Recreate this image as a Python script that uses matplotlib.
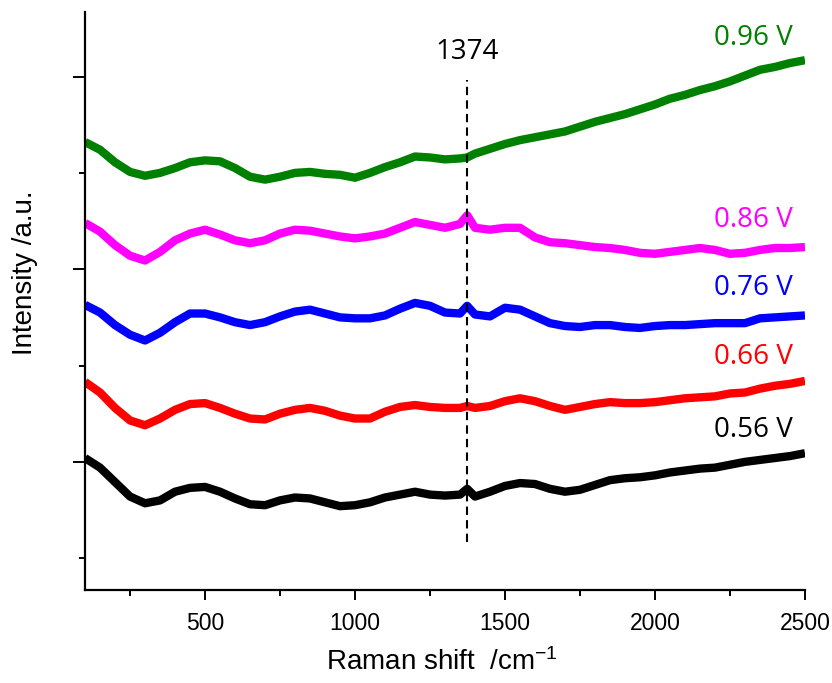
import matplotlib
matplotlib.use("Agg")
import matplotlib.pyplot as plt
from matplotlib.ticker import MultipleLocator

plt.rcParams["font.family"] = ["Liberation Sans", "DejaVu Sans"]
plt.rcParams["mathtext.default"] = "regular"

# Raman shift grid (cm^-1), 1374 kept as its own point for the marked band
shift = [100, 150, 200, 250, 300, 350, 400, 450, 500, 550,
         600, 650, 700, 750, 800, 850, 900, 950, 1000, 1050,
         1100, 1150, 1200, 1250, 1300, 1350, 1374, 1400, 1450, 1500,
         1550, 1600, 1650, 1700, 1750, 1800, 1850, 1900, 1950, 2000,
         2050, 2100, 2150, 2200, 2250, 2300, 2350, 2400, 2450, 2500]

# offset spectra, arbitrary units
i_096 = [4.32, 4.24, 4.11, 4.01, 3.97, 4.00, 4.05, 4.11, 4.13, 4.12,
         4.05, 3.96, 3.93, 3.96, 4.00, 4.01, 3.99, 3.98, 3.95, 4.00,
         4.06, 4.11, 4.17, 4.16, 4.14, 4.15, 4.16, 4.20, 4.25, 4.30,
         4.34, 4.37, 4.40, 4.43, 4.48, 4.53, 4.57, 4.61, 4.66, 4.71,
         4.77, 4.81, 4.86, 4.90, 4.95, 5.01, 5.07, 5.10, 5.14, 5.17]
i_086 = [3.48, 3.39, 3.25, 3.14, 3.09, 3.18, 3.30, 3.37, 3.41, 3.36,
         3.30, 3.27, 3.30, 3.37, 3.41, 3.40, 3.37, 3.34, 3.32, 3.34,
         3.37, 3.43, 3.49, 3.46, 3.43, 3.47, 3.56, 3.43, 3.41, 3.43,
         3.43, 3.33, 3.28, 3.27, 3.25, 3.23, 3.22, 3.20, 3.17, 3.16,
         3.18, 3.20, 3.22, 3.20, 3.16, 3.17, 3.20, 3.22, 3.22, 3.23]
i_076 = [2.63, 2.55, 2.42, 2.32, 2.26, 2.34, 2.45, 2.54, 2.54, 2.50,
         2.45, 2.42, 2.45, 2.51, 2.56, 2.58, 2.54, 2.50, 2.49, 2.49,
         2.52, 2.59, 2.65, 2.62, 2.55, 2.54, 2.62, 2.53, 2.51, 2.60,
         2.58, 2.51, 2.44, 2.41, 2.40, 2.42, 2.42, 2.40, 2.39, 2.41,
         2.42, 2.42, 2.43, 2.44, 2.44, 2.44, 2.49, 2.50, 2.51, 2.52]
i_066 = [1.83, 1.72, 1.56, 1.43, 1.38, 1.45, 1.54, 1.60, 1.61, 1.56,
         1.50, 1.45, 1.44, 1.50, 1.54, 1.56, 1.53, 1.48, 1.45, 1.45,
         1.52, 1.57, 1.59, 1.57, 1.56, 1.56, 1.58, 1.56, 1.58, 1.63,
         1.66, 1.63, 1.58, 1.54, 1.57, 1.60, 1.62, 1.61, 1.61, 1.62,
         1.64, 1.66, 1.67, 1.68, 1.71, 1.72, 1.76, 1.79, 1.81, 1.84]
i_056 = [1.04, 0.94, 0.79, 0.64, 0.57, 0.60, 0.69, 0.73, 0.74, 0.69,
         0.62, 0.56, 0.55, 0.60, 0.63, 0.62, 0.58, 0.54, 0.55, 0.58,
         0.63, 0.66, 0.69, 0.66, 0.65, 0.66, 0.72, 0.64, 0.69, 0.75,
         0.78, 0.77, 0.72, 0.69, 0.71, 0.76, 0.81, 0.83, 0.84, 0.86,
         0.89, 0.91, 0.93, 0.94, 0.97, 1.00, 1.02, 1.04, 1.06, 1.09]

potentials = ["0.56 V", "0.66 V", "0.76 V", "0.86 V", "0.96 V"]
colors = ["black", "#ff0000", "#0000ff", "#ff00ff", "#008000"]
label_y = [1.33, 2.09, 2.80, 3.51, 5.40]

peak_pos = 1374

fig = plt.figure(figsize=(8.32, 6.83), dpi=100)
ax = fig.add_axes([0.1022, 0.1362, 0.8653, 0.8462])

series = [i_056, i_066, i_076, i_086, i_096]
for vals, col, name, ly in zip(series, colors, potentials, label_y):
    ax.plot(shift, vals, color=col, lw=6, solid_joinstyle="round",
            solid_capstyle="butt")
    ax.text(2460, ly, name, color=col, fontsize=20, family="Open Sans",
            ha="right", va="center")

ax.plot([peak_pos, peak_pos], [0.17, 4.96], color="black", lw=1.5,
        ls=(0, (4, 2.5)))
ax.text(peak_pos, 5.25, str(peak_pos), fontsize=20, family="Open Sans",
        ha="center", va="center")

ax.set_xlim(100, 2500)
ax.set_ylim(-0.33, 5.67)
ax.xaxis.set_major_locator(MultipleLocator(500))
ax.xaxis.set_minor_locator(MultipleLocator(250))
ax.set_yticks([1, 3, 5])
ax.set_yticks([0, 2, 4], minor=True)
ax.set_yticklabels([])

for side in ("top", "right"):
    ax.spines[side].set_visible(False)
for side in ("left", "bottom"):
    ax.spines[side].set_linewidth(1.6)

ax.tick_params(axis="x", which="major", direction="out", length=7, width=1.4,
               labelsize=16.5, pad=9)
ax.tick_params(axis="x", which="minor", direction="out", length=4, width=1.4)
ax.tick_params(axis="y", which="major", direction="out", length=9, width=1.4)
ax.tick_params(axis="y", which="minor", direction="out", length=4, width=1.4)

fig.text(442 / 832, 1 - 662 / 683, r"Raman shift  /cm$^{-1}$", fontsize=20,
         ha="center", va="center")
fig.text(25 / 832, 1 - 273 / 683, "Intensity /a.u.", fontsize=20,
         rotation=90, ha="center", va="center")

fig.savefig("out.png", dpi=100)
